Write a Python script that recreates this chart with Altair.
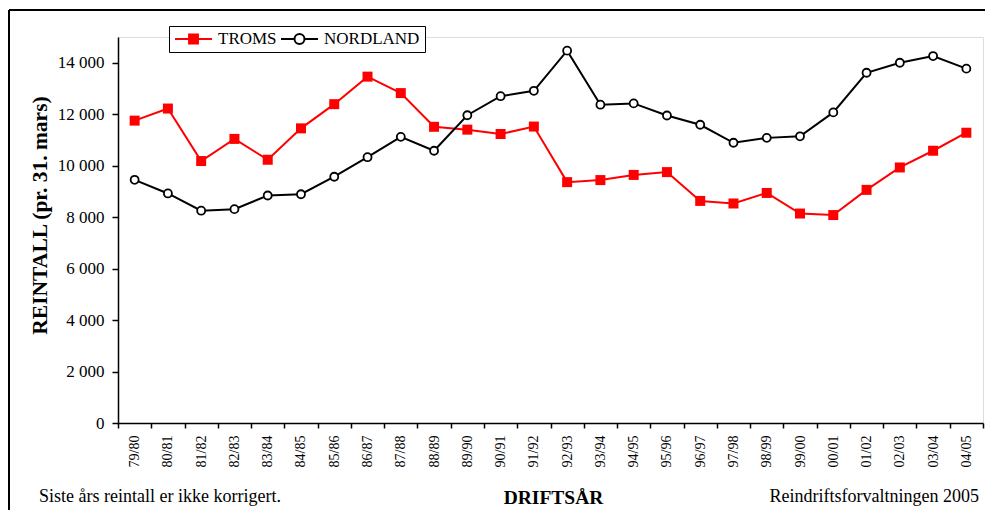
import altair as alt
import pandas as pd

years = ["79/80", "80/81", "81/82", "82/83", "83/84", "84/85", "85/86", "86/87",
         "87/88", "88/89", "89/90", "90/91", "91/92", "92/93", "93/94", "94/95",
         "95/96", "96/97", "97/98", "98/99", "99/00", "00/01", "01/02", "02/03",
         "03/04", "04/05"]
troms = [11750, 12220, 10180, 11040, 10230, 11450, 12390, 13460, 12820, 11510,
         11400, 11230, 11520, 9360, 9440, 9640, 9750, 8630, 8530, 8940,
         8140, 8080, 9060, 9930, 10580, 11280]
nordland = [9450, 8920, 8250, 8310, 8840, 8890, 9570, 10330, 11120, 10580,
            11960, 12700, 12910, 14470, 12370, 12420, 11950, 11590, 10890, 11080,
            11140, 12070, 13610, 14000, 14260, 13770]
series = ["TROMS", "NORDLAND"]
y_ticks = [0, 2000, 4000, 6000, 8000, 10000, 12000, 14000]

df = pd.DataFrame({
    "year": years * 2,
    "series": ["TROMS"] * len(years) + ["NORDLAND"] * len(years),
    "value": troms + nordland,
})

FONT = "Liberation Serif"
W, H = 865, 386

x_enc = alt.X("year:O", sort=years,
              scale=alt.Scale(type="band", paddingInner=0, paddingOuter=0),
              axis=alt.Axis(title="DRIFTSÅR", labelAngle=-90, labelFontSize=14,
                            labelFont=FONT, labelColor="black", tickBand="extent",
                            tickSize=5, tickColor="black", tickWidth=1.5,
                            domainColor="black", domainWidth=1.5, labelPadding=7,
                            titleFont=FONT, titleFontSize=19.5, titleFontWeight="bold",
                            titleColor="black", titleX=435, titleY=80,
                            titleBaseline="alphabetic", titleAlign="center"))
y_enc = alt.Y("value:Q", scale=alt.Scale(domain=[0, 15000], nice=False),
              axis=alt.Axis(title="REINTALL (pr. 31. mars)", values=y_ticks,
                            labelExpr="replace(format(datum.value, ','), ',', ' ')",
                            labelFont=FONT, labelFontSize=17, labelColor="black",
                            tickSize=6, tickColor="black", tickWidth=1.5,
                            domainColor="black", domainWidth=1.5, labelPadding=8,
                            grid=False, titleFont=FONT, titleFontSize=21.5,
                            titleFontWeight="bold", titleColor="black",
                            titleAngle=-90, titleX=-72, titleY=178,
                            titleBaseline="alphabetic", titleAlign="center"))

base = alt.Chart(df)
troms_line = base.transform_filter(alt.datum.series == "TROMS").mark_line(
    color="#ff0000", strokeWidth=2).encode(x=x_enc, y=y_enc)
troms_pts = base.transform_filter(alt.datum.series == "TROMS").mark_square(
    size=100, color="#ff0000", opacity=1).encode(x=x_enc, y=y_enc)
nord_line = base.transform_filter(alt.datum.series == "NORDLAND").mark_line(
    color="black", strokeWidth=2).encode(x=x_enc, y=y_enc)
nord_pts = base.transform_filter(alt.datum.series == "NORDLAND").mark_point(
    shape="circle", size=64, filled=True, fill="white", stroke="black",
    strokeWidth=1.8, opacity=1).encode(x=x_enc, y=y_enc)

path_troms = "M-1,0H1M-0.24,-0.24H0.24V0.24H-0.24Z"
path_nord = ("M-1,0H-0.27M0.27,0H1M0.27,0A0.27,0.27 0 1 1 -0.27,0"
             "A0.27,0.27 0 1 1 0.27,0Z")

legend_layer = base.transform_filter("false").mark_point(opacity=1, filled=True).encode(
    x=x_enc, y=y_enc,
    shape=alt.Shape("series:N", scale=alt.Scale(domain=series, range=[path_troms, path_nord]),
                    legend=alt.Legend(orient="none", legendX=51, legendY=-11,
                                      direction="horizontal", title=None,
                                      strokeColor="black", fillColor="white",
                                      padding=5, labelFont=FONT, labelFontSize=17,
                                      labelColor="black", symbolSize=1369,
                                      symbolStrokeWidth=2, labelOffset=5,
                                      columnPadding=3, clipHeight=16)),
    fill=alt.Fill("series:N", scale=alt.Scale(domain=series, range=["#ff0000", "white"])),
    stroke=alt.Stroke("series:N", scale=alt.Scale(domain=series, range=["#ff0000", "black"])),
)

one = alt.Chart(pd.DataFrame({"a": [0]}))
frame_top = one.mark_rule(color="black", strokeWidth=2).encode(
    x=alt.value(-109), x2=alt.value(870), y=alt.value(-27))
frame_left = one.mark_rule(color="black", strokeWidth=2).encode(
    x=alt.value(-109), y=alt.value(-27), y2=alt.value(480))
note_left = one.mark_text(text="Siste års reintall er ikke korrigert.", font=FONT,
                          fontSize=18, align="left", baseline="alphabetic",
                          color="black").encode(x=alt.value(-79), y=alt.value(465))
note_right = one.mark_text(text="Reindriftsforvaltningen 2005", font=FONT,
                           fontSize=18, align="right", baseline="alphabetic",
                           color="black").encode(x=alt.value(861), y=alt.value(465))

chart = alt.layer(
    troms_line, troms_pts, nord_line, nord_pts, legend_layer,
    frame_top, frame_left, note_left, note_right
).properties(
    width=W, height=H,
    autosize=alt.AutoSizeParams(type="none"),
    padding={"left": 110, "top": 29, "right": 2, "bottom": 87},
).configure_view(stroke=None).configure(font=FONT)

chart.save("out.html", embed_options={"renderer": "svg", "actions": False})
